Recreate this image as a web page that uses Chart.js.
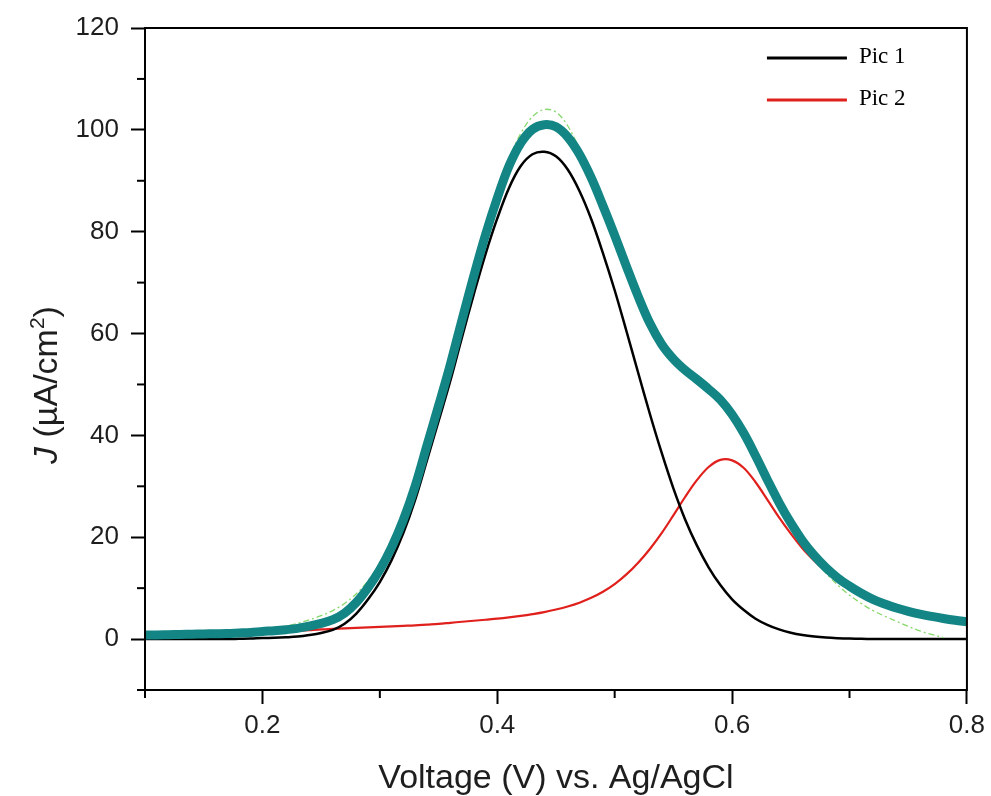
<!DOCTYPE html>
<html lang="en">
<head>
  <meta charset="UTF-8">
  <title>Peak fit - Pic 1 / Pic 2</title>
  <script src="https://cdn.jsdelivr.net/npm/chart.js"></script>
  <style>
    html, body { margin: 0; padding: 0; background: #fff; }
    #wrap { width: 991px; height: 796px; }
  </style>
</head>
<body>
  <div id="wrap"><canvas id="fitChart"></canvas></div>

  <script>
    // voltage (V vs Ag/AgCl)
    const voltage = [
      0.10, 0.11, 0.12, 0.13, 0.14, 0.15, 0.16, 0.17, 0.18, 0.19,
      0.20, 0.21, 0.22, 0.23, 0.24, 0.25, 0.26, 0.27, 0.28, 0.29,
      0.30, 0.31, 0.32, 0.33, 0.34, 0.35, 0.36, 0.37, 0.38, 0.39,
      0.40, 0.41, 0.42, 0.43, 0.44, 0.45, 0.46, 0.47, 0.48, 0.49,
      0.50, 0.51, 0.52, 0.53, 0.54, 0.55, 0.56, 0.57, 0.58, 0.59,
      0.60, 0.61, 0.62, 0.63, 0.64, 0.65, 0.66, 0.67, 0.68, 0.69,
      0.70, 0.71, 0.72, 0.73, 0.74, 0.75, 0.76, 0.77, 0.78, 0.79,
      0.80
    ];

    // J (uA/cm2)
    const pic1 = [
      0, 0, 0, 0, 0, 0, 0, 0, 0.05, 0.1,
      0.2, 0.25, 0.35, 0.5, 0.8, 1.2, 1.8, 3.0, 5.0, 7.8,
      11.2, 15.5, 20.8, 27.3, 35.0, 42.8, 50.7, 59.3, 67.7, 75.6,
      82.6, 88.6, 92.9, 95.2, 95.7, 94.8, 92.2, 88.0, 82.5, 75.8,
      68.5, 60.5, 52.3, 44.2, 36.6, 29.6, 23.5, 18.4, 14.1, 10.6,
      7.8, 5.7, 4.0, 2.8, 1.9, 1.25, 0.8, 0.5, 0.3, 0.18,
      0.1, 0.05, 0.02, 0, 0, 0, 0, 0, 0, 0,
      0
    ];

    const pic2 = [
      0.8, 0.82, 0.85, 0.9, 0.95, 1.0, 1.05, 1.1, 1.15, 1.2,
      1.3, 1.4, 1.5, 1.6, 1.75, 1.9, 2.0, 2.1, 2.2, 2.3,
      2.4, 2.5, 2.6, 2.7, 2.85, 3.0, 3.2, 3.4, 3.6, 3.8,
      4.0, 4.25, 4.55, 4.9, 5.3, 5.8, 6.4, 7.15, 8.1, 9.3,
      10.8, 12.7, 15.0, 17.7, 20.8, 24.3, 27.9, 31.2, 33.8, 35.2,
      35.1, 33.6, 30.8, 27.4, 23.9, 20.7, 17.8, 15.4, 13.3, 11.5,
      10.0, 8.8, 7.7, 6.85, 6.1, 5.45, 4.9, 4.45, 4.05, 3.7,
      3.4
    ];

    const fitSum = [
      0.8, 0.8, 0.85, 0.9, 0.95, 1.0, 1.05, 1.1, 1.2, 1.3,
      1.5, 1.65, 1.85, 2.1, 2.55, 3.1, 3.8, 5.1, 7.2, 10.1,
      13.6, 18.0, 23.4, 30.0, 37.9, 45.8, 53.9, 62.7, 71.3, 79.4,
      86.6, 92.9, 97.4, 100.1, 101.0, 100.6, 98.6, 95.2, 90.6, 85.1,
      79.3, 73.2, 67.3, 62.0, 57.9, 55.0, 52.8, 51.0, 49.1, 47.0,
      44.1, 40.4, 36.0, 31.3, 26.8, 22.8, 19.3, 16.4, 14.0, 12.0,
      10.4, 9.0, 7.8, 6.9, 6.1, 5.45, 4.9, 4.45, 4.05, 3.7,
      3.4
    ];

    const measured = [
      null, null, null, null, null, null, null, null, null, null,
      1.6, 2.0, 2.5, 3.1, 3.8, 4.6, 5.6, 7.0, 8.9, 11.5,
      14.8, 19.0, 24.2, 30.5, 38.0, 46.0, 54.2, 63.0, 71.8, 80.2,
      87.8, 94.3, 99.3, 102.6, 104.0, 103.5, 100.8, 96.2, 90.5, 84.4,
      79.0, 73.0, 67.4, 62.3, 58.0, 55.2, 53.0, 51.0, 48.8, 46.2,
      43.2, 39.5, 35.3, 30.8, 26.3, 22.2, 18.7, 15.6, 12.9, 10.6,
      8.6, 7.0, 5.6, 4.5, 3.5, 2.5, 1.6, 0.9, 0.3, null,
      null
    ];

    const toPoints = arr => voltage.map((v, i) => ({ x: v, y: arr[i] }));

    const sansFont = "'Liberation Sans', Arial, sans-serif";
    const serifFont = "'Liberation Serif', 'Times New Roman', serif";

    const isMajorX = v => Math.round(v * 10) % 2 === 0;
    const isMajorY = v => Math.round(v) % 20 === 0;

    // frame, minor ticks, axis titles and the legend box
    const decorations = {
      id: 'decorations',
      afterDraw(chart) {
        const { ctx, chartArea: a, scales } = chart;
        ctx.save();
        ctx.strokeStyle = '#000';
        ctx.lineWidth = 2;
        ctx.strokeRect(a.left, a.top, a.right - a.left, a.bottom - a.top);

        // minor ticks (shorter)
        scales.x.ticks.forEach(t => {
          if (isMajorX(t.value)) return;
          const px = scales.x.getPixelForValue(t.value);
          ctx.beginPath();
          ctx.moveTo(px, a.bottom);
          ctx.lineTo(px, a.bottom + 8);
          ctx.stroke();
        });
        scales.y.ticks.forEach(t => {
          if (isMajorY(t.value)) return;
          const py = scales.y.getPixelForValue(t.value);
          ctx.beginPath();
          ctx.moveTo(a.left, py);
          ctx.lineTo(a.left - 8, py);
          ctx.stroke();
        });

        // x title
        ctx.fillStyle = '#1e1e1e';
        ctx.font = `34px ${sansFont}`;
        ctx.textAlign = 'center';
        ctx.textBaseline = 'alphabetic';
        ctx.fillText('Voltage (V) vs. Ag/AgCl', (a.left + a.right) / 2, 788);

        // y title: italic J, superscript 2
        const parts = [
          { t: 'J', f: `italic 34px ${sansFont}`, dy: 0 },
          { t: ' (\u00B5A/cm', f: `34px ${sansFont}`, dy: 0 },
          { t: '2', f: `21px ${sansFont}`, dy: -13 },
          { t: ')', f: `34px ${sansFont}`, dy: 0 }
        ];
        let total = 0;
        parts.forEach(p => { ctx.font = p.f; p.w = ctx.measureText(p.t).width; total += p.w; });
        ctx.translate(57, a.top + 357);
        ctx.rotate(-Math.PI / 2);
        ctx.textAlign = 'left';
        let cx = -total / 2;
        parts.forEach(p => {
          ctx.font = p.f;
          ctx.fillText(p.t, cx, p.dy);
          cx += p.w;
        });
        ctx.restore();

        // legend (Pic 1 / Pic 2 only)
        ctx.save();
        const shown = chart.data.datasets.filter(d => d.inLegend);
        shown.forEach((d, i) => {
          const ly = a.top + 30 + i * 42;
          ctx.strokeStyle = d.borderColor;
          ctx.lineWidth = 3;
          ctx.beginPath();
          ctx.moveTo(a.right - 200, ly);
          ctx.lineTo(a.right - 120, ly);
          ctx.stroke();
          ctx.fillStyle = '#000';
          ctx.font = `23px ${serifFont}`;
          ctx.textAlign = 'left';
          ctx.textBaseline = 'alphabetic';
          ctx.fillText(d.label, a.right - 108, ly + 5);
        });
        ctx.restore();
      }
    };

    const chartCtx = document.getElementById('fitChart').getContext('2d');

    const chart = new Chart(chartCtx, {
      type: 'line',
      data: {
        datasets: [
          {
            label: 'Fit',
            data: toPoints(fitSum),
            borderColor: '#138585',
            borderWidth: 9,
            pointRadius: 0,
            tension: 0.35,
            order: 0
          },
          {
            label: 'Measured',
            data: toPoints(measured),
            borderColor: '#86d86a',
            borderWidth: 1.3,
            borderDash: [6, 3, 2, 3],
            pointRadius: 0,
            tension: 0.35,
            spanGaps: false,
            order: 1
          },
          {
            label: 'Pic 1',
            data: toPoints(pic1),
            borderColor: '#000000',
            borderWidth: 2.5,
            pointRadius: 0,
            tension: 0.35,
            inLegend: true,
            order: 2
          },
          {
            label: 'Pic 2',
            data: toPoints(pic2),
            borderColor: '#e0201c',
            borderWidth: 2.2,
            pointRadius: 0,
            tension: 0.35,
            inLegend: true,
            order: 3
          }
        ]
      },
      options: {
        responsive: true,
        maintainAspectRatio: false,
        animation: false,
        layout: { padding: { top: 28, right: 24, left: 0, bottom: 0 } },
        plugins: {
          legend: { display: false },
          tooltip: { enabled: false }
        },
        scales: {
          x: {
            type: 'linear',
            min: 0.1,
            max: 0.8,
            ticks: {
              stepSize: 0.1,
              autoSkip: false,
              maxRotation: 0,
              padding: 6,
              color: '#1e1e1e',
              font: { family: sansFont, size: 26 },
              callback: v => (isMajorX(v) ? v.toFixed(1) : '')
            },
            grid: {
              drawOnChartArea: false,
              tickLength: 14,
              tickWidth: 2,
              tickColor: c => (c.tick && isMajorX(c.tick.value) ? '#000' : 'rgba(0,0,0,0)')
            },
            border: { display: true, color: '#000', width: 2 },
            afterFit: s => { s.height = 106; }
          },
          y: {
            min: -10,
            max: 120,
            ticks: {
              stepSize: 10,
              autoSkip: false,
              padding: 12,
              color: '#1e1e1e',
              font: { family: sansFont, size: 26 },
              callback: v => (isMajorY(v) ? v : '')
            },
            grid: {
              drawOnChartArea: false,
              tickLength: 14,
              tickWidth: 2,
              tickColor: c => (c.tick && isMajorY(c.tick.value) ? '#000' : 'rgba(0,0,0,0)')
            },
            border: { display: true, color: '#000', width: 2 },
            afterFit: s => { s.width = 145; }
          }
        }
      },
      plugins: [decorations]
    });
  </script>
</body>
</html>
